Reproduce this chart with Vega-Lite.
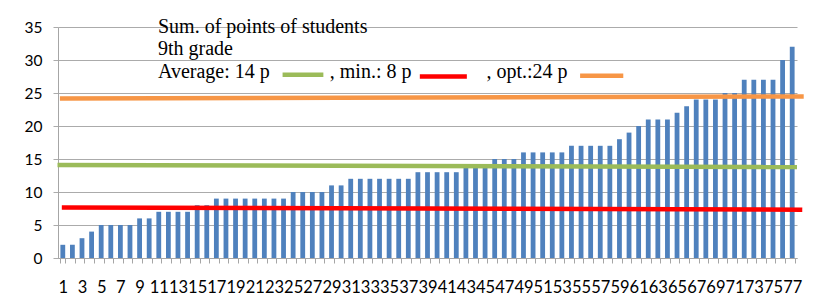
{
  "$schema": "https://vega.github.io/schema/vega-lite/v6.json",
  "width": 739,
  "height": 231,
  "autosize": {"type": "none"},
  "padding": {"left": 58, "top": 27, "right": 25, "bottom": 37},
  "background": "white",
  "config": {"view": {"stroke": null}, "font": "Lato"},
  "title": {
    "text": ["Sum. of points of students", "9th grade", "Average: 14 p\u00a0\u00a0\u00a0\u00a0\u00a0\u00a0\u00a0\u00a0\u00a0\u00a0\u00a0\u00a0, min.: 8 p\u00a0\u00a0\u00a0\u00a0\u00a0\u00a0\u00a0\u00a0\u00a0\u00a0\u00a0\u00a0\u00a0\u00a0\u00a0, opt.:24 p"],
    "font": "Liberation Serif",
    "fontSize": 20,
    "fontWeight": "normal",
    "color": "black",
    "anchor": "start",
    "frame": "group",
    "orient": "top",
    "baseline": "alphabetic",
    "lineHeight": 22.5,
    "offset": 0,
    "dx": 100,
    "dy": 77.5
  },
  "datasets": {
    "scores": [
      {"student": 1, "points": 2}, {"student": 2, "points": 2}, {"student": 3, "points": 3}, {"student": 4, "points": 4},
      {"student": 5, "points": 5}, {"student": 6, "points": 5}, {"student": 7, "points": 5}, {"student": 8, "points": 5},
      {"student": 9, "points": 6}, {"student": 10, "points": 6}, {"student": 11, "points": 7}, {"student": 12, "points": 7},
      {"student": 13, "points": 7}, {"student": 14, "points": 7}, {"student": 15, "points": 8}, {"student": 16, "points": 8},
      {"student": 17, "points": 9}, {"student": 18, "points": 9}, {"student": 19, "points": 9}, {"student": 20, "points": 9},
      {"student": 21, "points": 9}, {"student": 22, "points": 9}, {"student": 23, "points": 9}, {"student": 24, "points": 9},
      {"student": 25, "points": 10}, {"student": 26, "points": 10}, {"student": 27, "points": 10}, {"student": 28, "points": 10},
      {"student": 29, "points": 11}, {"student": 30, "points": 11}, {"student": 31, "points": 12}, {"student": 32, "points": 12},
      {"student": 33, "points": 12}, {"student": 34, "points": 12}, {"student": 35, "points": 12}, {"student": 36, "points": 12},
      {"student": 37, "points": 12}, {"student": 38, "points": 13}, {"student": 39, "points": 13}, {"student": 40, "points": 13},
      {"student": 41, "points": 13}, {"student": 42, "points": 13}, {"student": 43, "points": 14}, {"student": 44, "points": 14},
      {"student": 45, "points": 14}, {"student": 46, "points": 15}, {"student": 47, "points": 15}, {"student": 48, "points": 15},
      {"student": 49, "points": 16}, {"student": 50, "points": 16}, {"student": 51, "points": 16}, {"student": 52, "points": 16},
      {"student": 53, "points": 16}, {"student": 54, "points": 17}, {"student": 55, "points": 17}, {"student": 56, "points": 17},
      {"student": 57, "points": 17}, {"student": 58, "points": 17}, {"student": 59, "points": 18}, {"student": 60, "points": 19},
      {"student": 61, "points": 20}, {"student": 62, "points": 21}, {"student": 63, "points": 21}, {"student": 64, "points": 21},
      {"student": 65, "points": 22}, {"student": 66, "points": 23}, {"student": 67, "points": 24}, {"student": 68, "points": 24},
      {"student": 69, "points": 24}, {"student": 70, "points": 25}, {"student": 71, "points": 25}, {"student": 72, "points": 27},
      {"student": 73, "points": 27}, {"student": 74, "points": 27}, {"student": 75, "points": 27}, {"student": 76, "points": 30},
      {"student": 77, "points": 32}
    ],
    "lines": [
      {"segment": "avg", "series": "average", "u": 0.45, "value": 14.09},
      {"segment": "avg", "series": "average", "u": 77.5, "value": 13.79},
      {"segment": "min", "series": "min", "u": 0.9, "value": 7.67},
      {"segment": "min", "series": "min", "u": 78.05, "value": 7.32},
      {"segment": "opt", "series": "opt", "u": 0.7, "value": 24.18},
      {"segment": "opt", "series": "opt", "u": 78.2, "value": 24.48},
      {"segment": "avgKey", "series": "average", "u": 23.9, "value": 27.75},
      {"segment": "avgKey", "series": "average", "u": 28.15, "value": 27.75},
      {"segment": "minKey", "series": "min", "u": 38.2, "value": 27.5},
      {"segment": "minKey", "series": "min", "u": 43.1, "value": 27.5},
      {"segment": "optKey", "series": "opt", "u": 54.9, "value": 27.6},
      {"segment": "optKey", "series": "opt", "u": 59.4, "value": 27.6}
    ]
  },
  "layer": [
    {
      "data": {"name": "scores"},
      "mark": {"type": "bar", "color": "#4F81BD"},
      "encoding": {
        "x": {
          "field": "student",
          "type": "ordinal",
          "scale": {"paddingInner": 0.5, "paddingOuter": 0.25},
          "axis": {
            "title": null,
            "labelAngle": 0,
            "labelExpr": "datum.value % 2 == 1 ? datum.label : ''",
            "labelOverlap": false,
            "labelFont": "Lato",
            "labelFontSize": 16.5,
            "labelColor": "black",
            "labelPadding": 16,
            "tickBand": "extent",
            "tickSize": 5,
            "tickColor": "#a6a6a6",
            "domainColor": "#a6a6a6"
          }
        },
        "y": {
          "field": "points",
          "type": "quantitative",
          "scale": {"domain": [0, 35], "nice": false},
          "axis": {
            "title": null,
            "values": [0, 5, 10, 15, 20, 25, 30, 35],
            "tickCount": 8,
            "labelOverlap": false,
            "grid": true,
            "gridColor": "#ababab",
            "tickSize": 5,
            "tickColor": "#ababab",
            "domainColor": "#a6a6a6",
            "labelPadding": 11,
            "labelFont": "Lato",
            "labelFontSize": 15.5,
            "labelColor": "black"
          }
        }
      }
    },
    {
      "data": {"name": "lines"},
      "mark": {"type": "line", "strokeWidth": 4.5},
      "encoding": {
        "x": {"field": "u", "type": "quantitative", "scale": {"domain": [0.5, 77.5], "nice": false, "zero": false}, "axis": null},
        "y": {
          "field": "value",
          "type": "quantitative",
          "axis": {
            "title": null,
            "values": [0, 5, 10, 15, 20, 25, 30, 35],
            "tickCount": 8,
            "labelOverlap": false,
            "grid": true,
            "gridColor": "#ababab",
            "tickSize": 5,
            "tickColor": "#ababab",
            "domainColor": "#a6a6a6",
            "labelPadding": 11,
            "labelFont": "Lato",
            "labelFontSize": 15.5,
            "labelColor": "black"
          }
        },
        "color": {
          "field": "series",
          "type": "nominal",
          "scale": {"domain": ["average", "min", "opt"], "range": ["#9BBB59", "#FF0000", "#F79646"]},
          "legend": null
        },
        "detail": {"field": "segment"}
      }
    }
  ],
  "resolve": {"scale": {"x": "independent"}}
}
